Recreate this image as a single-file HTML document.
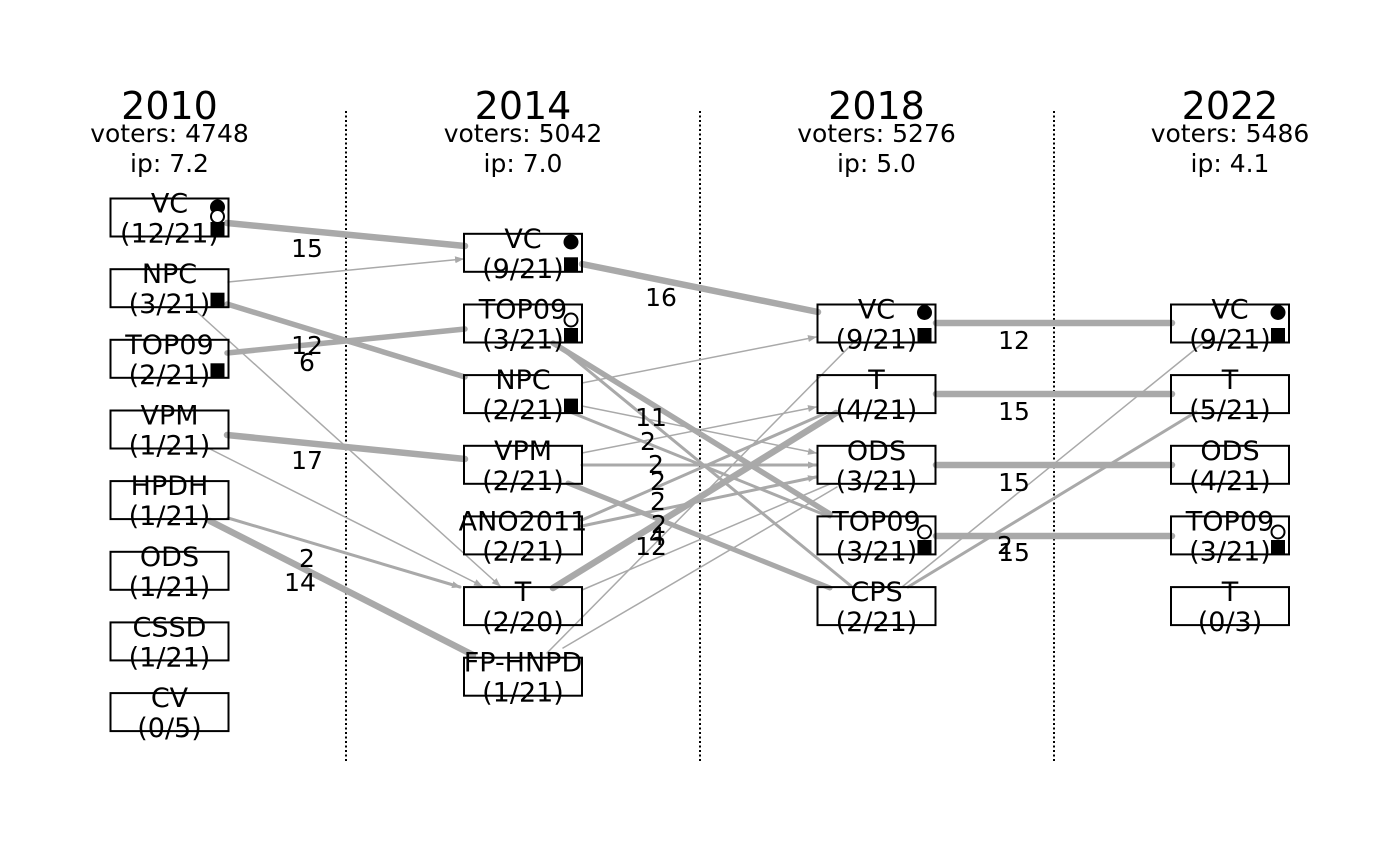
<!DOCTYPE html>
<html><head><meta charset="utf-8"><style>
html,body{margin:0;padding:0;background:#fff;}
svg{display:block;}
text{font-family:"DejaVu Sans","Liberation Sans",sans-serif;fill:#000;}
.t{font-size:38px;text-anchor:middle;}
.h{font-size:25px;text-anchor:middle;}
.n{font-size:27px;text-anchor:middle;}
.e{font-size:25px;text-anchor:middle;}
.ed{stroke:#a9a9a9;stroke-linecap:round;fill:none;}
.bx{fill:none;stroke:#000;stroke-width:2;}
</style></head><body>
<svg width="1400" height="866" viewBox="0 0 1400 866" xmlns="http://www.w3.org/2000/svg">
<defs>
<marker id="ar" markerUnits="userSpaceOnUse" markerWidth="9" markerHeight="7" refX="8" refY="3.5" orient="auto">
<path d="M0,0 L9,3.5 L0,7 z" fill="#a9a9a9"/>
</marker>
</defs>
<rect width="1400" height="866" fill="#fff"/>

<!-- dotted separators -->
<g stroke="#000" stroke-width="2" stroke-dasharray="2 2.5">
<line x1="346" y1="111" x2="346" y2="761"/>
<line x1="700" y1="111" x2="700" y2="761"/>
<line x1="1054" y1="111" x2="1054" y2="761"/>
</g>

<!-- headers -->
<text class="t" x="169.5" y="119">2010</text>
<text class="h" x="169.5" y="142">voters: 4748</text>
<text class="h" x="169.5" y="172">ip: 7.2</text>
<text class="t" x="523" y="119">2014</text>
<text class="h" x="523" y="142">voters: 5042</text>
<text class="h" x="523" y="172">ip: 7.0</text>
<text class="t" x="876.5" y="119">2018</text>
<text class="h" x="876.5" y="142">voters: 5276</text>
<text class="h" x="876.5" y="172">ip: 5.0</text>
<text class="t" x="1230" y="119">2022</text>
<text class="h" x="1230" y="142">voters: 5486</text>
<text class="h" x="1230" y="172">ip: 4.1</text>

<!-- edges col1 -> col2 -->
<line class="ed" stroke-width="6.5" x1="227" y1="223" x2="465" y2="246"/>
<line class="ed" stroke-width="1.5" x1="228" y1="282" x2="463" y2="259" marker-end="url(#ar)"/>
<line class="ed" stroke-width="5.5" x1="227" y1="304" x2="465" y2="377"/>
<line class="ed" stroke-width="1.5" x1="197" y1="312" x2="500" y2="586" marker-end="url(#ar)"/>
<line class="ed" stroke-width="5.5" x1="227" y1="353" x2="465" y2="329"/>
<line class="ed" stroke-width="6.5" x1="227" y1="435" x2="465" y2="459"/>
<line class="ed" stroke-width="1.5" x1="210" y1="449" x2="482" y2="586" marker-end="url(#ar)"/>
<line class="ed" stroke-width="3" x1="228" y1="518" x2="460" y2="587" marker-end="url(#ar)"/>
<line class="ed" stroke-width="6.5" x1="210" y1="521" x2="473" y2="655"/>

<!-- edges col2 -> col3 -->
<line class="ed" stroke-width="6.5" x1="582" y1="264" x2="818" y2="312"/>
<line class="ed" stroke-width="1.5" x1="582" y1="383" x2="816" y2="337" marker-end="url(#ar)"/>
<line class="ed" stroke-width="1.5" x1="582" y1="406" x2="816" y2="453" marker-end="url(#ar)"/>
<line class="ed" stroke-width="3" x1="570" y1="412" x2="830" y2="517"/>
<line class="ed" stroke-width="5.5" x1="553" y1="343" x2="830" y2="514"/>
<line class="ed" stroke-width="3" x1="556" y1="344" x2="851" y2="586"/>
<line class="ed" stroke-width="1.5" x1="582" y1="453" x2="816" y2="407" marker-end="url(#ar)"/>
<line class="ed" stroke-width="3" x1="582" y1="465" x2="816" y2="465" marker-end="url(#ar)"/>
<line class="ed" stroke-width="5" x1="568" y1="483" x2="830" y2="588"/>
<line class="ed" stroke-width="3" x1="582" y1="520" x2="826" y2="413"/>
<line class="ed" stroke-width="3" x1="582" y1="526" x2="816" y2="477" marker-end="url(#ar)"/>
<line class="ed" stroke-width="6.5" x1="553" y1="588" x2="836" y2="413"/>
<line class="ed" stroke-width="1.5" x1="582" y1="590" x2="830" y2="484"/>
<line class="ed" stroke-width="1.5" x1="547" y1="653" x2="853" y2="343"/>
<line class="ed" stroke-width="1.5" x1="563" y1="648" x2="837" y2="487"/>

<!-- edges col3 -> col4 -->
<line class="ed" stroke-width="6.5" x1="936" y1="323" x2="1172" y2="323"/>
<line class="ed" stroke-width="6.5" x1="936" y1="394" x2="1172" y2="394"/>
<line class="ed" stroke-width="6.5" x1="936" y1="465" x2="1172" y2="465"/>
<line class="ed" stroke-width="6.5" x1="936" y1="536" x2="1172" y2="536"/>
<line class="ed" stroke-width="1.5" x1="902" y1="587" x2="1203" y2="343"/>
<line class="ed" stroke-width="3" x1="908" y1="587" x2="1196" y2="412"/>

<!-- edge labels -->
<text class="e" x="307" y="257">15</text>
<text class="e" x="307" y="354">12</text>
<text class="e" x="307" y="371">6</text>
<text class="e" x="307" y="469">17</text>
<text class="e" x="307" y="567">2</text>
<text class="e" x="300" y="591">14</text>

<text class="e" x="661" y="306">16</text>
<text class="e" x="651" y="426">11</text>
<text class="e" x="648" y="450">2</text>
<text class="e" x="656" y="473">2</text>
<text class="e" x="658" y="490">2</text>
<text class="e" x="658" y="510">2</text>
<text class="e" x="659" y="533">2</text>
<text class="e" x="657" y="545">4</text>
<text class="e" x="651" y="555">12</text>

<text class="e" x="1014" y="349">12</text>
<text class="e" x="1014" y="420">15</text>
<text class="e" x="1014" y="491">15</text>
<text class="e" x="1005" y="554">2</text>
<text class="e" x="1014" y="561">15</text>

<!-- column 1 boxes -->
<g>
<rect class="bx" x="110.5" y="198.5" width="118" height="38"/>
<text class="n" x="169.5" y="212.5">VC</text><text class="n" x="169.5" y="242.5">(12/21)</text>
<circle cx="217.5" cy="207" r="7.5" fill="#000"/>
<circle cx="217.5" cy="216.5" r="6.5" fill="#fff" stroke="#000" stroke-width="2"/>
<rect x="210.5" y="222" width="14" height="14.5" fill="#000"/>

<rect class="bx" x="110.5" y="269.2" width="118" height="38"/>
<text class="n" x="169.5" y="283.2">NPC</text><text class="n" x="169.5" y="313.2">(3/21)</text>
<rect x="210.5" y="292.7" width="14" height="14.5" fill="#000"/>

<rect class="bx" x="110.5" y="339.8" width="118" height="38"/>
<text class="n" x="169.5" y="353.8">TOP09</text><text class="n" x="169.5" y="383.8">(2/21)</text>
<rect x="210.5" y="363.3" width="14" height="14.5" fill="#000"/>

<rect class="bx" x="110.5" y="410.5" width="118" height="38"/>
<text class="n" x="169.5" y="424.5">VPM</text><text class="n" x="169.5" y="454.5">(1/21)</text>

<rect class="bx" x="110.5" y="481.1" width="118" height="38"/>
<text class="n" x="169.5" y="495.1">HPDH</text><text class="n" x="169.5" y="525.1">(1/21)</text>

<rect class="bx" x="110.5" y="551.8" width="118" height="38"/>
<text class="n" x="169.5" y="565.8">ODS</text><text class="n" x="169.5" y="595.8">(1/21)</text>

<rect class="bx" x="110.5" y="622.4" width="118" height="38"/>
<text class="n" x="169.5" y="636.4">CSSD</text><text class="n" x="169.5" y="666.4">(1/21)</text>

<rect class="bx" x="110.5" y="693.1" width="118" height="38"/>
<text class="n" x="169.5" y="707.1">CV</text><text class="n" x="169.5" y="737.1">(0/5)</text>
</g>

<!-- column 2 boxes -->
<g>
<rect class="bx" x="464" y="233.8" width="118" height="38"/>
<text class="n" x="523" y="247.8">VC</text><text class="n" x="523" y="277.8">(9/21)</text>
<circle cx="571" cy="242" r="7.5" fill="#000"/>
<rect x="564" y="257.3" width="14" height="14.5" fill="#000"/>

<rect class="bx" x="464" y="304.5" width="118" height="38"/>
<text class="n" x="523" y="318.5">TOP09</text><text class="n" x="523" y="348.5">(3/21)</text>
<circle cx="571" cy="320" r="6.5" fill="#fff" stroke="#000" stroke-width="2"/>
<rect x="564" y="328" width="14" height="14.5" fill="#000"/>

<rect class="bx" x="464" y="375.1" width="118" height="38"/>
<text class="n" x="523" y="389.1">NPC</text><text class="n" x="523" y="419.1">(2/21)</text>
<rect x="564" y="398.6" width="14" height="14.5" fill="#000"/>

<rect class="bx" x="464" y="445.8" width="118" height="38"/>
<text class="n" x="523" y="459.8">VPM</text><text class="n" x="523" y="489.8">(2/21)</text>

<rect class="bx" x="464" y="516.4" width="118" height="38"/>
<text class="n" x="523" y="530.4">ANO2011</text><text class="n" x="523" y="560.4">(2/21)</text>

<rect class="bx" x="464" y="587.1" width="118" height="38"/>
<text class="n" x="523" y="601.1">T</text><text class="n" x="523" y="631.1">(2/20)</text>

<rect class="bx" x="464" y="657.7" width="118" height="38"/>
<text class="n" x="523" y="671.7">FP-HNPD</text><text class="n" x="523" y="701.7">(1/21)</text>
</g>

<!-- column 3 boxes -->
<g>
<rect class="bx" x="817.5" y="304.5" width="118" height="38"/>
<text class="n" x="876.5" y="318.5">VC</text><text class="n" x="876.5" y="348.5">(9/21)</text>
<circle cx="924.5" cy="312.5" r="7.5" fill="#000"/>
<rect x="917.5" y="328" width="14" height="14.5" fill="#000"/>

<rect class="bx" x="817.5" y="375.1" width="118" height="38"/>
<text class="n" x="876.5" y="389.1">T</text><text class="n" x="876.5" y="419.1">(4/21)</text>

<rect class="bx" x="817.5" y="445.8" width="118" height="38"/>
<text class="n" x="876.5" y="459.8">ODS</text><text class="n" x="876.5" y="489.8">(3/21)</text>

<rect class="bx" x="817.5" y="516.4" width="118" height="38"/>
<text class="n" x="876.5" y="530.4">TOP09</text><text class="n" x="876.5" y="560.4">(3/21)</text>
<circle cx="924.5" cy="532" r="6.5" fill="#fff" stroke="#000" stroke-width="2"/>
<rect x="917.5" y="540" width="14" height="14.5" fill="#000"/>

<rect class="bx" x="817.5" y="587.1" width="118" height="38"/>
<text class="n" x="876.5" y="601.1">CPS</text><text class="n" x="876.5" y="631.1">(2/21)</text>
</g>

<!-- column 4 boxes -->
<g>
<rect class="bx" x="1171" y="304.5" width="118" height="38"/>
<text class="n" x="1230" y="318.5">VC</text><text class="n" x="1230" y="348.5">(9/21)</text>
<circle cx="1278" cy="312.5" r="7.5" fill="#000"/>
<rect x="1271" y="328" width="14" height="14.5" fill="#000"/>

<rect class="bx" x="1171" y="375.1" width="118" height="38"/>
<text class="n" x="1230" y="389.1">T</text><text class="n" x="1230" y="419.1">(5/21)</text>

<rect class="bx" x="1171" y="445.8" width="118" height="38"/>
<text class="n" x="1230" y="459.8">ODS</text><text class="n" x="1230" y="489.8">(4/21)</text>

<rect class="bx" x="1171" y="516.4" width="118" height="38"/>
<text class="n" x="1230" y="530.4">TOP09</text><text class="n" x="1230" y="560.4">(3/21)</text>
<circle cx="1278" cy="532" r="6.5" fill="#fff" stroke="#000" stroke-width="2"/>
<rect x="1271" y="540" width="14" height="14.5" fill="#000"/>

<rect class="bx" x="1171" y="587.1" width="118" height="38"/>
<text class="n" x="1230" y="601.1">T</text><text class="n" x="1230" y="631.1">(0/3)</text>
</g>
</svg>
</body></html>
